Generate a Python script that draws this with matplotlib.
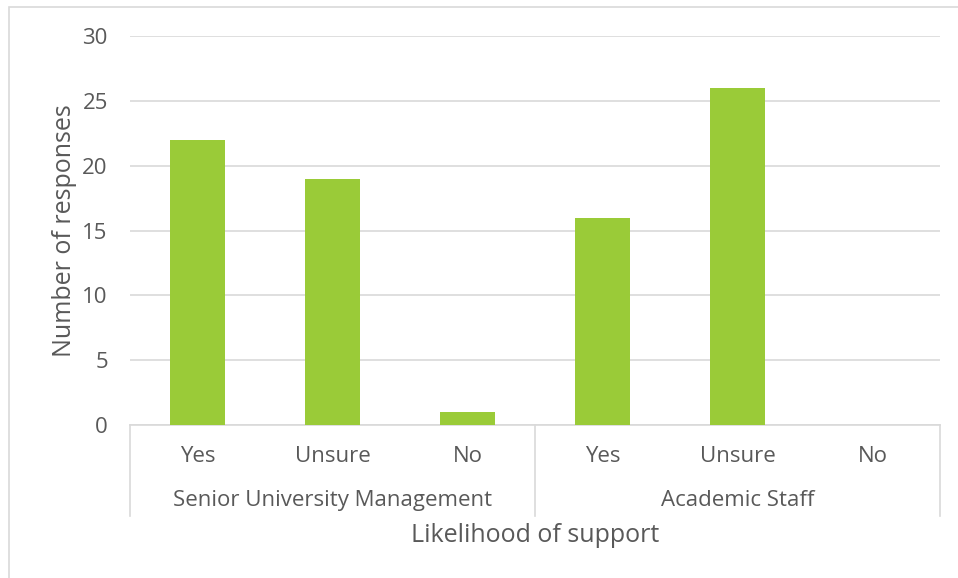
import matplotlib.pyplot as plt
from matplotlib.patches import Rectangle

groups = ["Senior University Management", "Academic Staff"]
answers = ["Yes", "Unsure", "No"]
responses = [22, 19, 1, 16, 26, 0]
y_ticks = [0, 5, 10, 15, 20, 25, 30]

bar_color = "#9ACB38"
text_color = "#595959"
grid_color = "#D9D9D9"

plt.rcParams['font.family'] = ['Open Sans', 'DejaVu Sans']

fig = plt.figure(figsize=(9.58, 5.78), dpi=100)
ax = fig.add_axes([0.1357, 0.2647, 0.8455, 0.673])

n = len(responses)
x = list(range(n))
ax.bar(x, responses, width=0.41, color=bar_color, zorder=3)

ax.set_xlim(-0.5, n - 0.5)
ax.set_ylim(0, 30)
ax.set_yticks(y_ticks)
ax.tick_params(axis='y', length=0, labelsize=16, labelcolor=text_color, pad=16)
ax.grid(axis='y', color=grid_color, linewidth=1.2, zorder=0)
for s in ['top', 'right', 'left']:
    ax.spines[s].set_visible(False)
ax.spines['bottom'].set_color(grid_color)
ax.spines['bottom'].set_linewidth(1.2)

# multi-level category axis
ax.set_xticks(x)
ax.set_xticklabels(answers * len(groups))
ax.tick_params(axis='x', length=0, labelsize=16, labelcolor=text_color, pad=15)

trans = ax.get_xaxis_transform()
per = len(answers)
for gi, g in enumerate(groups):
    cx = gi * per + (per - 1) / 2
    ax.text(cx, -0.195, g, transform=trans, ha='center', va='center',
            fontsize=16, color=text_color)
for b in range(len(groups) + 1):
    xb = b * per - 0.5
    ax.plot([xb, xb], [0, -0.235], transform=trans, color=grid_color,
            linewidth=1.2, clip_on=False)

ax.set_ylabel("Number of responses", fontsize=18, color=text_color, labelpad=4)
fig.text(0.5585, 0.074, "Likelihood of support", ha='center', va='center',
         fontsize=18, color=text_color)

# chart border
fig.patches.append(Rectangle((0.0094, -0.01), 1.0, 0.998, transform=fig.transFigure,
                             fill=False, edgecolor=grid_color, linewidth=1.2))

fig.savefig("out.png", dpi=100)
